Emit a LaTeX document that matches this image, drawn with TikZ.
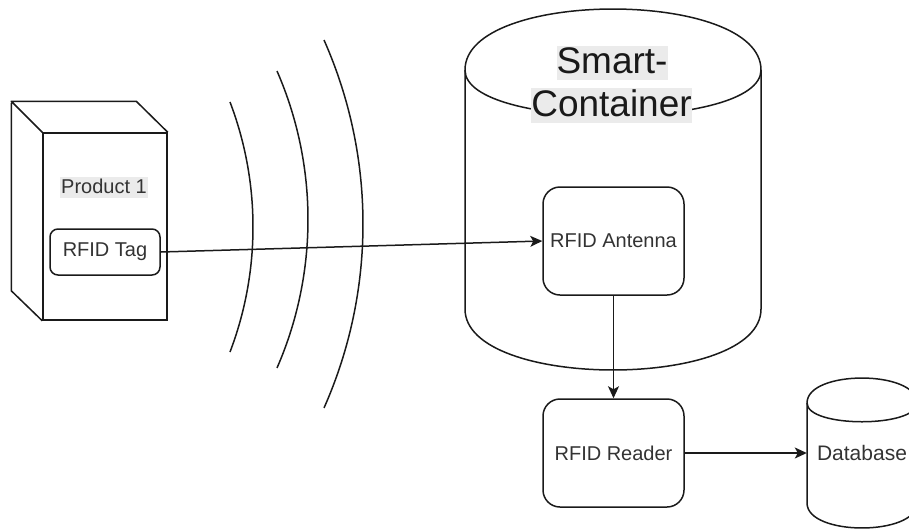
\documentclass[tikz,border=0pt]{standalone}
\usepackage{fontspec}
\setmainfont{Liberation Sans}
\usetikzlibrary{arrows.meta}
\definecolor{ln}{HTML}{1A1A1A}
\definecolor{tx}{HTML}{333333}
\definecolor{hl}{HTML}{EBEBEB}
\tikzset{
 shapeline/.style={draw=ln, line width=1.5pt},
 rbox/.style={shapeline, rounded corners=17pt, inner sep=0pt, font=\fontsize{20}{24}\selectfont, text=tx},
 lbl/.style={font=\fontsize{20}{24}\selectfont, text=tx, inner sep=0pt},
 hlbl/.style={font=\fontsize{20}{24}\selectfont, text=tx, fill=hl, inner xsep=1pt, inner ysep=1pt, text height=15pt, text depth=4pt},
 biglbl/.style={font=\fontsize{37}{40}\selectfont, text=black!90, fill=hl, inner xsep=0pt, inner ysep=0pt, text height=28pt, text depth=6.5pt},
 conn/.style={draw=ln, line width=1.5pt, -{Stealth[length=12pt,width=11pt,inset=3pt]}},
}
\begin{document}
\begin{tikzpicture}[x=1pt,y=-1pt]
\useasboundingbox (0,0) rectangle (909,531);

% product cube
\node[shapeline, minimum width=124, minimum height=187, inner sep=0pt] (product) at (105,226.5) {};
\draw[shapeline, line join=round] (product.north west) -- ++(-31,-31) -- ++(125,0) -- (product.north east) (product.south west) -- ++(-31,-30) -- ++(0,-188) ;
\node[hlbl] (plabel) at (104,187.5) {Product 1};
\node[rbox, rounded corners=8pt, minimum width=110, minimum height=46] (tag) at (105,252) {RFID Tag};

% waves
\draw[shapeline] (230,102) arc[start angle=-20.85, end angle=20.85, radius=351.2];
\draw[shapeline] (277,71) arc[start angle=-23.58, end angle=23.58, radius=371.2];
\draw[shapeline] (324,40) arc[start angle=-23.93, end angle=23.93, radius=453.6];

% smart container cylinder
\node[inner sep=0pt, minimum width=296, minimum height=361] (container) at (613,189.5) {};
\draw[shapeline] (465,70) .. controls (465,-11.3) and (761,-11.3) .. (761,70) -- (761,309)
  .. controls (761,390.3) and (465,390.3) .. (465,309) -- cycle;
\draw[shapeline] (465,70) .. controls (465,131) and (761,131) .. (761,70);
\node[biglbl] (sc1) at (612,63) {Smart-};
\node[biglbl] (sc2) at (611.5,105.5) {Container};

\node[rbox, minimum width=141, minimum height=108] (antenna) at (613.5,241) {RFID Antenna};
\node[rbox, minimum width=141, minimum height=108] (reader) at (613.5,453) {RFID Reader};

% database
\node[inner sep=0pt, minimum width=110, minimum height=150, font=\fontsize{21}{24}\selectfont, text=tx] (db) at (862,453) {Database};
\draw[shapeline] (807,403) .. controls (807,369.7) and (917,369.7) .. (917,403) -- (917,503)
  .. controls (917,536.3) and (807,536.3) .. (807,503) -- cycle;
\draw[shapeline] (807,403) .. controls (807,428) and (917,428) .. (917,403);

% connectors
\draw[conn] (tag.east) -- (antenna.west);
\draw[conn] (antenna.south) -- (reader.north);
\draw[conn] (reader.east) -- (db.west);
\end{tikzpicture}
\end{document}
